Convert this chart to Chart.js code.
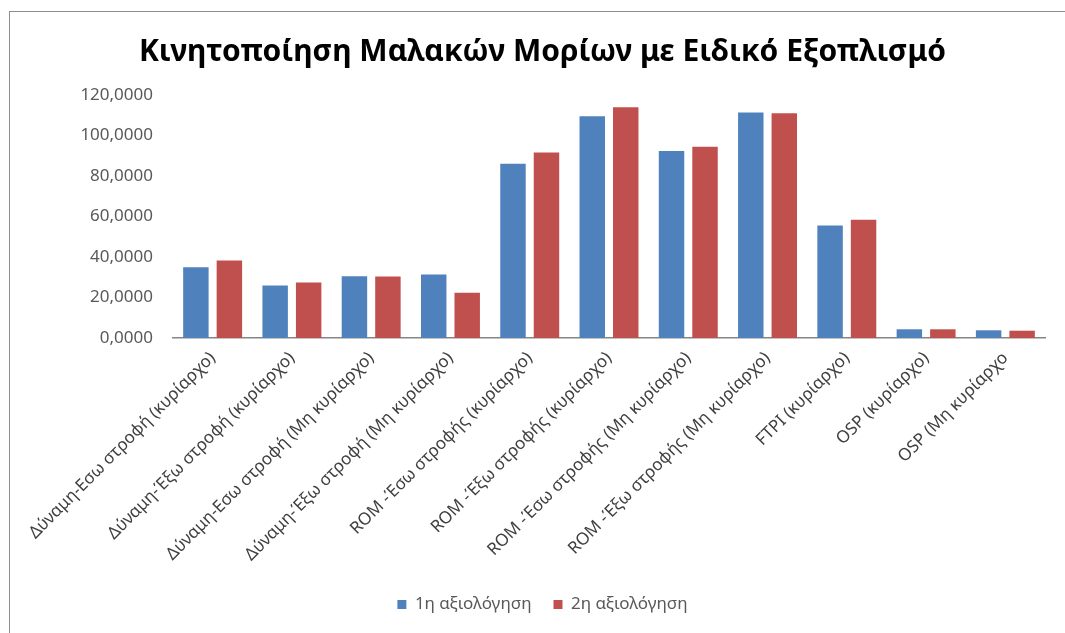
<!DOCTYPE html>
<html>
<head>
<meta charset="utf-8">
<script src="https://cdn.jsdelivr.net/npm/chart.js@4"></script>
<style>
  body { margin: 0; background: #fff; overflow: hidden; }
  #frame { position: absolute; left: 9px; top: 11px; width: 1100px; height: 700px; border: 1px solid #8e8e8e; border-right: none; border-bottom: none; }
  #chart { position: absolute; left: 0; top: 0; }
</style>
</head>
<body>
<div id="frame"></div>
<canvas id="chart" width="1065" height="633"></canvas>
<script>
const categories = [
    'Δύναμη-Εσω στροφή (κυρίαρχο)',
    'Δύναμη-Έξω στροφή (κυρίαρχο)',
    'Δύναμη-Εσω στροφή (Μη κυρίαρχο)',
    'Δύναμη-Έξω στροφή (Μη κυρίαρχο)',
    'ROM -Έσω στροφής (κυρίαρχο)',
    'ROM -Έξω στροφής (κυρίαρχο)',
    'ROM -Έσω στροφής (Μη κυρίαρχο)',
    'ROM -Έξω στροφής (Μη κυρίαρχο)',
    'FTPI (κυρίαρχο)',
    'OSP (κυρίαρχο)',
    'OSP (Μη κυρίαρχο'
];
const firstEval = [35.0, 25.9, 30.5, 31.4, 86.0, 109.5, 92.3, 111.4, 55.6, 4.3, 3.8];
const secondEval = [38.3, 27.4, 30.4, 22.3, 91.6, 113.9, 94.5, 111.0, 58.4, 4.3, 3.6];
const seriesNames = ['1η αξιολόγηση', '2η αξιολόγηση'];
const yTicks = [0, 20, 40, 60, 80, 100, 120];

const font = "'Noto Sans', sans-serif";

new Chart(document.getElementById('chart').getContext('2d'), {
    type: 'bar',
    data: {
        labels: categories,
        datasets: [
            { label: seriesNames[0], data: firstEval, backgroundColor: '#4F81BD' },
            { label: seriesNames[1], data: secondEval, backgroundColor: '#C0504D' }
        ]
    },
    options: {
        responsive: false,
        animation: false,
        categoryPercentage: 0.845,
        barPercentage: 0.76,
        layout: { padding: { left: 40, right: 20, top: 0, bottom: 10 } },
        plugins: {
            title: {
                display: true,
                text: 'Κινητοποίηση Μαλακών Μορίων με Ειδικό Εξοπλισμό',
                color: '#000',
                font: { family: font, size: 30, weight: 'bold' },
                padding: { top: 34, bottom: 25 }
            },
            legend: {
                position: 'bottom',
                labels: {
                    color: '#595959',
                    font: { family: font, size: 17 },
                    boxWidth: 9,
                    boxHeight: 9,
                    padding: 22
                }
            },
            tooltip: { enabled: false }
        },
        scales: {
            x: {
                grid: { display: false },
                border: { color: '#868686', width: 1.5 },
                ticks: {
                    color: '#404040',
                    font: { family: font, size: 17 },
                    minRotation: 45,
                    maxRotation: 45,
                    padding: 2
                },
                afterFit: (scale) => { scale.height = 236; }
            },
            y: {
                min: 0,
                max: 120,
                afterBuildTicks: (scale) => { scale.ticks = yTicks.map(v => ({ value: v })); },
                grid: { display: false, drawTicks: false },
                border: { display: false },
                ticks: {
                    color: '#595959',
                    font: { family: font, size: 17 },
                    padding: 20,
                    callback: (v) => v.toFixed(4).replace('.', ',')
                },
                afterFit: (scale) => { scale.width = 133; }
            }
        }
    }
});
</script>
</body>
</html>
